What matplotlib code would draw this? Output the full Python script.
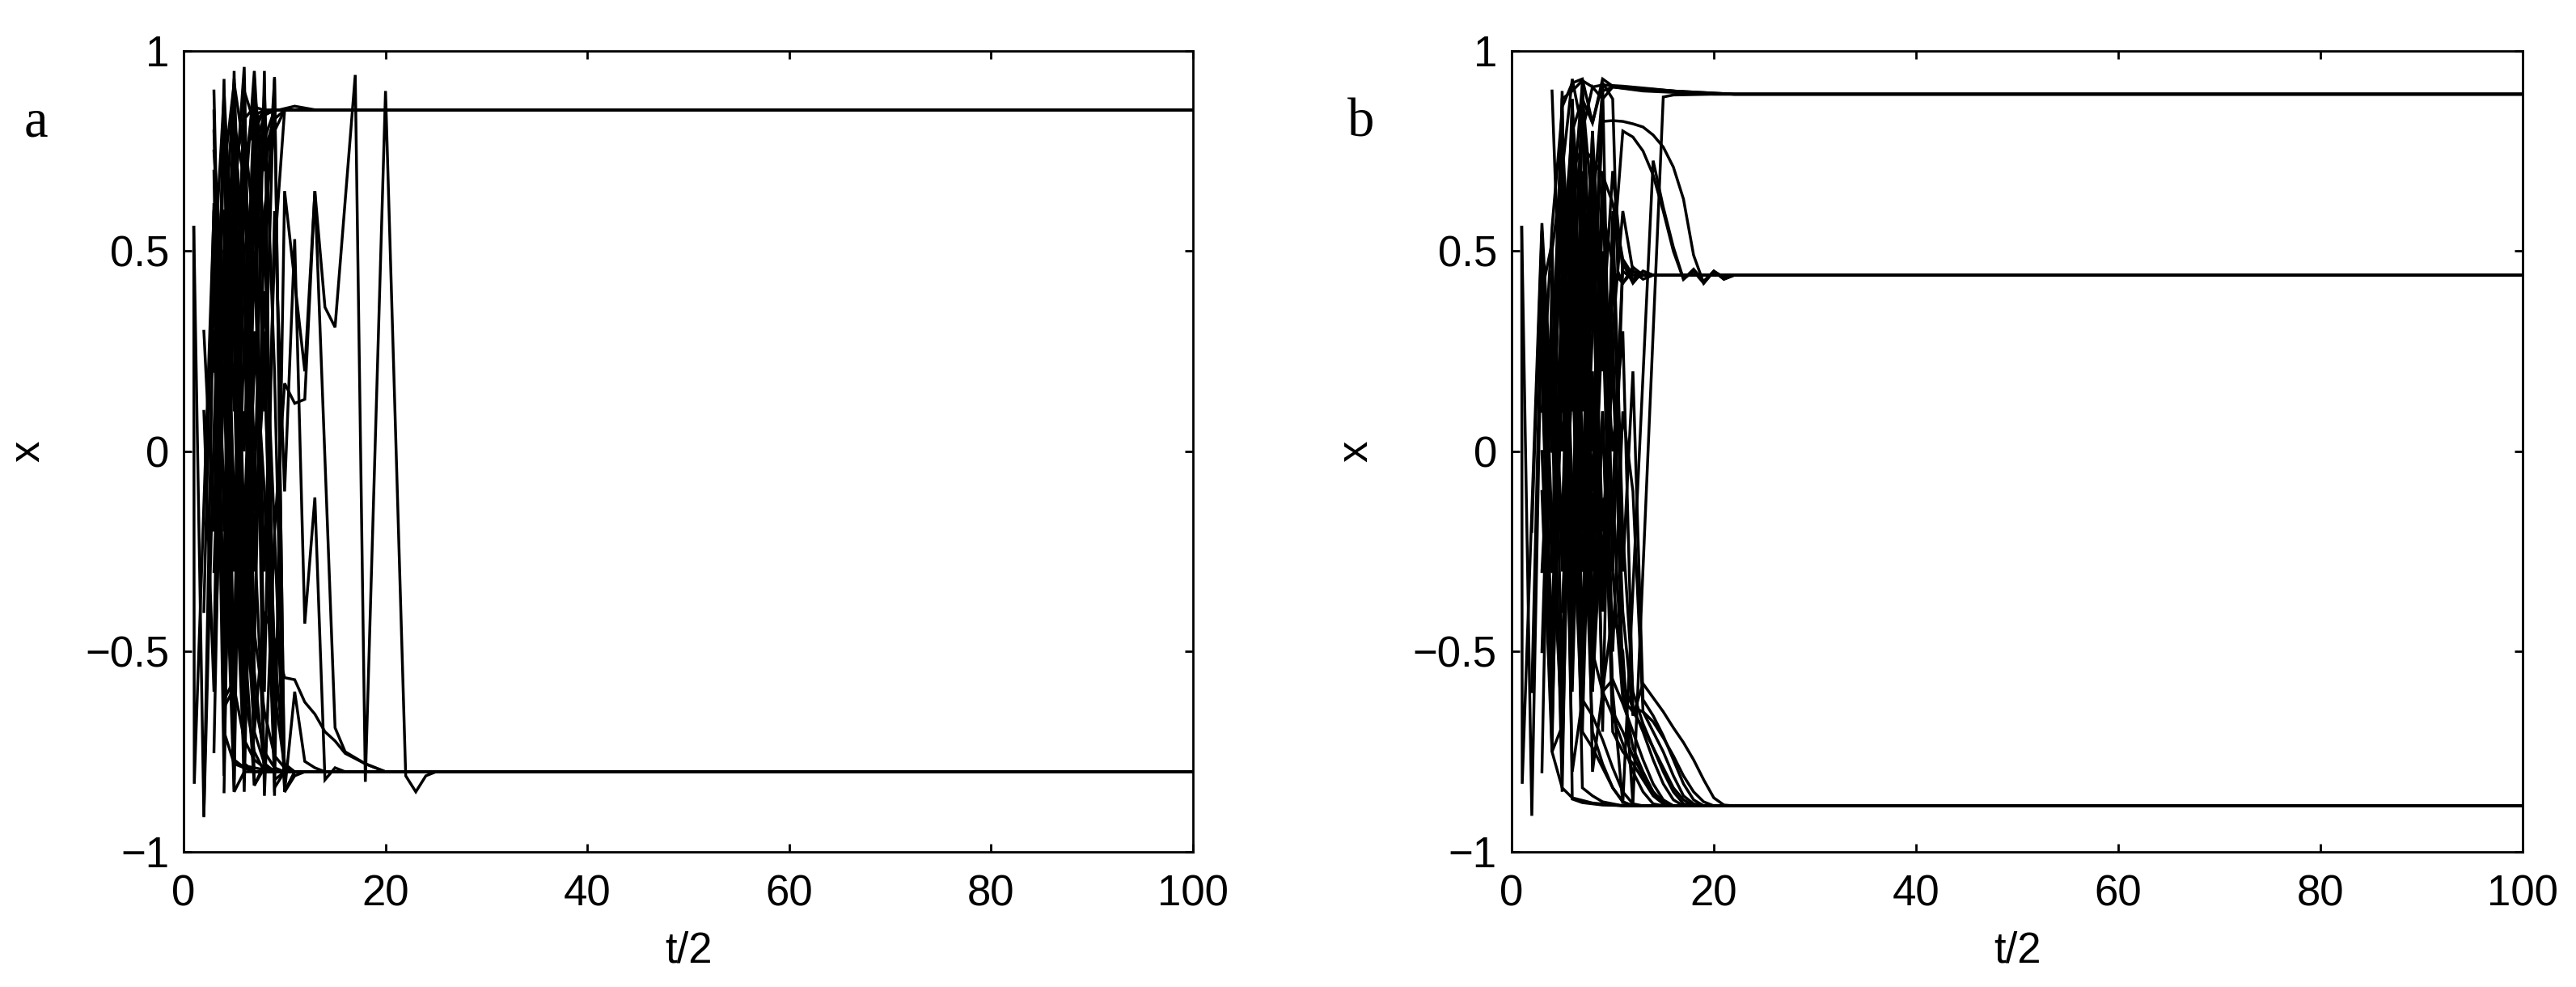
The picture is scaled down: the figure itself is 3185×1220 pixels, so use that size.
import matplotlib
matplotlib.use('Agg')
import matplotlib.pyplot as plt

# time axis end (t/2)
t_end = 100

# panel a: runs as (t/2, x) pairs, each run holds its last value up to t_end
a_to_top = [
    [(1, 0.56), (2, -0.91), (3, 0.45), (4, 0.89), (5, -0.65), (6, 0.72), (7, 0.84), (8, 0.852)],
    [(4, 0.3), (5, -0.82), (6, 0.90), (7, 0.82), (8, 0.85), (9, 0.85), (11, 0.862), (13, 0.853), (15, 0.852)],
    [(4, -0.85), (5, 0.7), (6, 0.83), (7, 0.86), (8, 0.852)],
    [(3, 0.4), (4, -0.1), (5, -0.85), (6, 0.8), (7, 0.55), (8, 0.75), (9, 0.83), (10, 0.852)],
    [(3, 0.8), (4, 0.1), (5, 0.65), (6, -0.2), (7, 0.6), (8, 0.84), (9, 0.852)],
    [(4, 0.7), (5, 0.92), (6, 0.75), (7, 0.8), (8, 0.852)],
    [(5, 0.55), (6, -0.3), (7, 0.2), (8, 0.6), (9, 0.8), (10, 0.852)],
    [(3, 0.75), (4, 0.35), (5, 0.82), (6, 0.68), (7, 0.9), (8, 0.7), (9, 0.852)],
    [(4, 0.55), (5, 0.3), (6, 0.62), (7, 0.45), (8, 0.78), (9, 0.852)],
    [(3, 0.3), (4, -0.4), (5, 0.6), (6, -0.5), (7, 0.5), (8, -0.3), (9, 0.5), (10, 0.852)],
    [(4, 0.9), (5, 0.4), (6, 0.0), (7, 0.75), (8, 0.84), (9, 0.852)],
]
a_to_bottom = [
    [(1, 0.56), (1.05, -0.83), (3, 0.60), (4, -0.45), (5, 0.88), (6, -0.78), (7, -0.80)],
    [(2, -0.91), (3, 0.05), (4, 0.80), (5, -0.30), (6, 0.93), (7, -0.55), (8, -0.79), (9, -0.80)],
    [(2, 0.3), (3, -0.2), (4, 0.93), (5, -0.77), (6, -0.79), (7, -0.80)],
    [(3, 0.9), (4, -0.2), (5, 0.8), (6, 0.5), (7, -0.834), (8, -0.79), (9, -0.80)],
    [(3, 0.85), (4, -0.7), (5, -0.78), (6, -0.79), (7, -0.80)],
    [(4, 0.88), (5, -0.2), (6, -0.78), (7, -0.80)],
    [(4, -0.3), (5, 0.95), (6, -0.6), (7, -0.75), (8, -0.80)],
    [(4, 0.2), (5, -0.85), (6, -0.80)],
    [(4, 0.6), (5, 0.4), (6, -0.4), (7, 0.7), (8, -0.86), (9, -0.2), (10, -0.85), (11, -0.80)],
    [(5, -0.5), (6, 0.7), (7, 0.4), (8, 0.9), (9, 0.2), (10, -0.85), (11, -0.80)],
    [(5, 0.2), (6, -0.85), (7, 0.3), (8, -0.1), (9, -0.82), (10, -0.80)],
    [(5, 0.85), (6, 0.4), (7, -0.45), (8, -0.65), (9, -0.76), (10, -0.79), (11, -0.80)],
    [(6, 0.6), (7, 0.95), (8, 0.5), (9, 0.93), (10, -0.85), (11, -0.81), (12, -0.80)],
    [(5, -0.1), (6, 0.1), (7, -0.2), (8, -0.78), (9, -0.80)],
    [(4, -0.55), (5, 0.45), (6, 0.65), (7, 0.0), (8, 0.3), (9, -0.84), (10, -0.80)],
    [(4, 0.5), (5, -0.11), (6, -0.14), (7, -0.62), (8, -0.75), (9, -0.79), (10, -0.80)],
    [(4, -0.6), (5, -0.16), (6, -0.3), (7, -0.7), (8, -0.78), (9, -0.80)],
    [(3, 0.6), (4, -0.64), (5, -0.59), (6, -0.72), (7, -0.77), (8, -0.79), (9, -0.80)],
    [(4, 0.6), (5, -0.78), (7, -0.79), (9, -0.80)],
    [(5, 0.3), (6, -0.45), (7, -0.834), (8, -0.78), (9, -0.80)],
    [(3, -0.3), (4, 0.4), (5, -0.6), (6, 0.3), (7, -0.5), (8, 0.6), (9, -0.6), (10, -0.79), (11, -0.80)],
    [(2, 0.1), (3, -0.6), (4, 0.2), (5, 0.5), (6, -0.7), (7, -0.2), (8, 0.2), (9, -0.5), (10, -0.78), (11, -0.80)],
    [(3, 0.2), (4, 0.75), (5, 0.1), (6, 0.90), (7, -0.70), (8, -0.40), (9, -0.47), (10, -0.565),
     (11, -0.57), (12, -0.626), (13, -0.656), (14, -0.70), (15, -0.723), (16, -0.754), (18, -0.78), (20, -0.80)],
    [(3, -0.5), (4, 0.85), (5, 0.3), (6, -0.82), (7, 0.93), (8, 0.1), (9, 0.935), (10, -0.85),
     (11, -0.60), (12, -0.774), (13, -0.79), (14, -0.80)],
]
a_late = [
    [(2, -0.40), (3, 0.62), (4, -0.62), (5, -0.57), (6, 0.85), (7, -0.15), (8, 0.95), (9, -0.86),
     (10, 0.65), (12, 0.20), (13, 0.65), (14, 0.36), (15, 0.31), (17, 0.94), (18, -0.825),
     (20, 0.90), (22, -0.81), (23, -0.85), (24, -0.81), (25, -0.80)],
    [(3, 0.70), (4, -0.81), (5, 0.60), (6, 0.96), (7, -0.3), (8, 0.40), (9, -0.20), (10, 0.17),
     (11, 0.12), (12, 0.13), (13, 0.65), (15, -0.69), (16, -0.75), (18, -0.78), (20, -0.80)],
    [(3, -0.75), (4, 0.5), (5, 0.93), (6, 0.2), (7, 0.88), (8, -0.6), (9, 0.6), (10, -0.1),
     (11, 0.53), (12, -0.43), (13, -0.115), (14, -0.82), (15, -0.79), (16, -0.80)],
]

# panel b
b_to_top = [
    [(2, -0.6), (3, 0.45), (4, -0.3), (5, 0.88), (6, 0.90), (7, 0.926), (8, 0.91), (9, 0.915),
     (11, 0.912), (14, 0.905), (18, 0.895), (22, 0.892)],
    [(4, 0.5), (5, 0.7), (6, 0.93), (7, 0.80), (8, 0.91), (9, 0.88), (10, 0.91), (13, 0.90), (20, 0.892)],
    [(5, 0.8), (6, 0.3), (7, 0.89), (8, 0.6), (9, 0.9), (10, 0.91), (12, 0.905), (22, 0.892)],
    [(3, -0.5), (4, 0.3), (5, -0.2), (6, 0.75), (7, -0.7), (8, 0.2), (9, -0.6), (10, -0.4),
     (11, -0.5), (12, -0.88), (15, 0.885), (16, 0.89), (20, 0.892)],
    [(4, 0.2), (5, 0.86), (6, 0.92), (7, 0.93), (8, 0.82), (9, 0.93), (10, 0.912), (16, 0.90), (22, 0.892)],
]
b_to_mid = [
    [(2, -0.2), (3, 0.55), (4, -0.74), (5, 0.50), (6, 0.80), (7, 0.88), (8, 0.82), (9, 0.92),
     (10, -0.3), (11, 0.47), (12, 0.43), (13, 0.45), (14, 0.44)],
    [(3, -0.8), (4, 0.45), (5, 0.0), (6, 0.60), (7, -0.5), (8, 0.70), (9, 0.20), (10, 0.45),
     (11, 0.42), (12, 0.46), (13, 0.44)],
    [(3, 0.1), (4, 0.56), (5, 0.85), (6, -0.4), (7, 0.92), (8, 0.30), (9, 0.92), (10, 0.88),
     (10.5, 0.45), (11, 0.42), (12, 0.45), (13, 0.44)],
    [(3, 0.3), (4, -0.5), (5, 0.3), (6, 0.7), (7, 0.76), (8, 0.73), (9, 0.69), (10, 0.62),
     (11, 0.48), (12, 0.44)],
    [(3, -0.3), (4, 0.2), (5, -0.85), (6, 0.5), (7, -0.3), (8, 0.3), (9, 0.824), (10, 0.826),
     (11, 0.824), (12, 0.818), (13, 0.81), (14, 0.79), (15, 0.76), (16, 0.71), (17, 0.63),
     (18, 0.49), (19, 0.42), (20, 0.45), (21, 0.43), (22, 0.44)],
    [(3, 0.5), (4, 0.0), (5, 0.6), (6, -0.2), (7, 0.5), (8, -0.1), (9, 0.6), (10, 0.47),
     (11, 0.80), (12, 0.785), (13, 0.75), (14, 0.69), (15, 0.60), (16, 0.50), (17, 0.43),
     (18, 0.45), (19, 0.42), (20, 0.45), (21, 0.43), (22, 0.44)],
    [(3, 0.2), (4, -0.6), (5, 0.4), (6, -0.3), (7, 0.6), (8, -0.5), (9, 0.1), (10, -0.6),
     (11, -0.88), (14, 0.726), (15, 0.61), (16, 0.51), (17, 0.43), (18, 0.455), (19, 0.425),
     (20, 0.45), (21, 0.435), (22, 0.44)],
    [(4, 0.1), (5, 0.7), (6, -0.5), (7, 0.65), (8, -0.6), (9, -0.12), (10, -0.11), (11, 0.47),
     (12, 0.42), (13, 0.45), (14, 0.44)],
    [(4, 0.9), (5, 0.2), (6, 0.88), (7, 0.1), (8, 0.8), (9, 0.3), (10, 0.7), (11, 0.45),
     (12, 0.43), (13, 0.44)],
    [(5, 0.1), (6, 0.65), (7, -0.2), (8, 0.55), (9, -0.4), (10, 0.3), (11, 0.6), (12, 0.45),
     (13, 0.43), (14, 0.44)],
]
b_to_bottom = [
    [(1, 0.56), (1.05, -0.83), (3, 0.57), (4, 0.1), (5, -0.78), (6, 0.3), (7, -0.84), (8, -0.86),
     (9, -0.875), (11, -0.885)],
    [(1, 0.56), (2, -0.91), (3, 0.40), (4, 0.52), (5, -0.6), (6, 0.88), (7, 0.0), (8, -0.70),
     (9, -0.78), (10, -0.84), (11, -0.875), (12, -0.885)],
    [(3, 0.0), (4, -0.6), (5, 0.2), (6, 0.85), (7, 0.5), (8, -0.8), (9, -0.6), (10, -0.57),
     (11, -0.63), (12, -0.70), (13, -0.77), (14, -0.83), (15, -0.87), (16, -0.885)],
    [(3, 0.5), (4, -0.2), (5, -0.7), (6, 0.6), (7, 0.92), (8, -0.5), (9, -0.60), (10, -0.66),
     (11, -0.73), (12, -0.80), (13, -0.85), (14, -0.88), (15, -0.885)],
    [(4, -0.3), (5, 0.4), (6, -0.8), (7, -0.62), (8, -0.66), (9, -0.72), (10, -0.79), (11, -0.85),
     (12, -0.88), (13, -0.885)],
    [(4, 0.25), (5, 0.6), (6, -0.1), (7, -0.70), (8, -0.74), (9, -0.79), (10, -0.84), (11, -0.875),
     (12, -0.885)],
    [(3, 0.3), (4, -0.75), (5, -0.84), (6, -0.865), (8, -0.878), (11, -0.885)],
    [(3, -0.1), (4, -0.75), (5, -0.686), (6, 0.6), (7, 0.2), (8, 0.8), (9, -0.4), (10, 0.3),
     (11, -0.58), (12, -0.64), (13, -0.70), (14, -0.77), (15, -0.83), (16, -0.87), (17, -0.885)],
    [(4, 0.0), (5, 0.9), (6, -0.868), (7, -0.877), (9, -0.883), (12, -0.885)],
    [(4, 0.45), (5, -0.3), (6, 0.35), (7, 0.85), (8, 0.0), (9, 0.7), (10, -0.3), (11, -0.62),
     (12, -0.65), (13, -0.69), (14, -0.74), (15, -0.79), (16, -0.84), (17, -0.87), (18, -0.885)],
    [(5, 0.5), (6, 0.1), (7, 0.6), (8, -0.2), (9, 0.4), (10, 0.0), (11, 0.3), (12, -0.64),
     (13, -0.65), (14, -0.675), (15, -0.715), (16, -0.76), (17, -0.81), (18, -0.85), (19, -0.875),
     (20, -0.885)],
    [(5, -0.4), (6, 0.2), (7, -0.3), (8, 0.5), (9, -0.2), (10, 0.2), (11, -0.4), (12, -0.66),
     (13, -0.58), (14, -0.615), (15, -0.65), (16, -0.69), (17, -0.727), (18, -0.77), (19, -0.82),
     (20, -0.865), (21, -0.883), (22, -0.885)],
    [(4, -0.4), (5, 0.2), (6, -0.5), (7, 0.4), (8, -0.6), (9, 0.1), (10, -0.7), (11, -0.75),
     (12, -0.78), (13, -0.82), (14, -0.86), (15, -0.88), (16, -0.885)],
    [(5, 0.6), (6, -0.6), (7, 0.3), (8, -0.45), (9, 0.5), (10, -0.65), (11, -0.7), (12, -0.76),
     (13, -0.81), (14, -0.85), (15, -0.875), (16, -0.885)],
    [(6, 0.4), (7, -0.6), (8, 0.6), (9, -0.7), (10, 0.5), (11, -0.3), (12, 0.2), (13, -0.62),
     (14, -0.66), (15, -0.71), (16, -0.77), (17, -0.83), (18, -0.87), (19, -0.885)],
    [(5, -0.2), (6, 0.55), (7, -0.1), (8, 0.7), (9, -0.35), (10, 0.6), (11, -0.2), (12, -0.6),
     (13, -0.68), (14, -0.74), (15, -0.8), (16, -0.85), (17, -0.88), (18, -0.885)],
    [(4, -0.7), (5, 0.3), (6, -0.35), (7, 0.45), (8, 0.1), (9, -0.3), (10, -0.1), (11, -0.6),
     (12, -0.74), (13, -0.8), (14, -0.85), (15, -0.88), (16, -0.885)],
    [(6, -0.2), (7, 0.7), (8, -0.3), (9, 0.35), (10, -0.5), (11, 0.1), (12, -0.1), (13, -0.65),
     (14, -0.70), (15, -0.75), (16, -0.81), (17, -0.86), (18, -0.88), (19, -0.885)],
]

x_ticks = [0, 20, 40, 60, 80, 100]
y_ticks = [-1, -0.5, 0, 0.5, 1]
y_ticklabels = ['\u22121', '\u22120.5', '0', '0.5', '1']


def draw_panel(ax, groups, letter, letter_x):
    for group in groups:
        for run in group:
            ts = [p[0] for p in run] + [t_end]
            xs = [p[1] for p in run] + [run[-1][1]]
            ax.plot(ts, xs, color='black', lw=2.5, solid_joinstyle='miter')
    ax.set_xlim(0, t_end)
    ax.set_ylim(-1, 1)
    ax.set_xticks(x_ticks)
    ax.set_yticks(y_ticks)
    ax.set_yticklabels(y_ticklabels, fontfamily='Liberation Sans', fontsize=38)
    ax.set_xticklabels([str(v) for v in x_ticks], fontfamily='Liberation Sans', fontsize=38)
    ax.tick_params(direction='in', length=7.5, width=2, top=True, right=True)
    ax.tick_params(axis='x', pad=20)
    ax.tick_params(axis='y', pad=13)
    for s in ax.spines.values():
        s.set_linewidth(2)
    ax.set_xlabel('t/2', fontfamily='Liberation Sans', fontsize=38)
    ax.xaxis.set_label_coords(0.5, -0.098)
    ax.set_ylabel('x', fontfamily='Liberation Sans', fontsize=38)
    ax.yaxis.set_label_coords(-0.134, 0.5)
    ax.figure.text(letter_x, 0.862, letter, fontfamily='Liberation Serif', fontsize=48,
                   va='baseline', ha='left')


fig = plt.figure(figsize=(31.85, 12.2), dpi=100)
ax_a = fig.add_axes([0.0713, 0.1369, 0.3918, 0.8115])
ax_b = fig.add_axes([0.5868, 0.1369, 0.3925, 0.8115])

draw_panel(ax_a, [a_to_top, a_to_bottom, a_late], 'a', 0.0094)
draw_panel(ax_b, [b_to_top, b_to_mid, b_to_bottom], 'b', 0.523)

plt.savefig('out.png', dpi=100)
